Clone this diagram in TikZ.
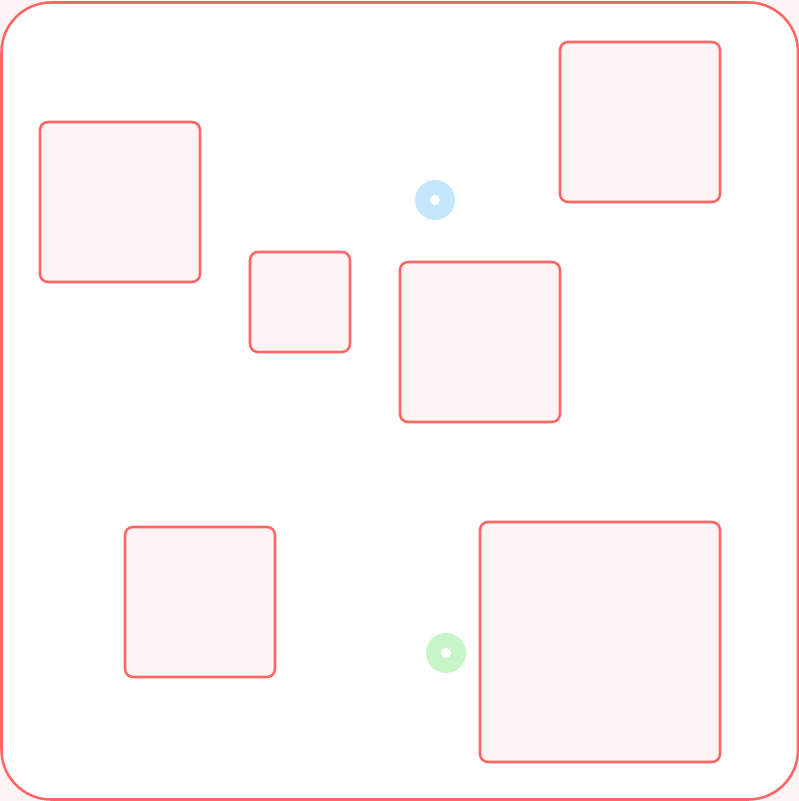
\documentclass[tikz,border=0pt]{standalone}
\usepackage{xcolor}
\usepackage{tikz}
\definecolor{obscol}{RGB}{255,102,102}
\definecolor{obsfill}{RGB}{255,244,244}
\definecolor{startcol}{RGB}{198,230,251}
\definecolor{goalcol}{RGB}{200,245,200}
\tikzset{obstacle/.style={draw=obscol,fill=obsfill,line width=0.9pt,rounded corners=0.1cm}}
\begin{document}
\begin{tikzpicture}[x=0.0125cm,y=-0.0125cm]
\useasboundingbox (0,0) rectangle (799,801);
% workspace
\fill[obsfill] (0,0) rectangle (799,801);
\filldraw[fill=white,draw=obscol,line width=0.9pt,rounded corners=0.62cm] (1.5,2.5) rectangle (798,799.5);
% obstacles
\draw[obstacle] (40,122) rectangle (200,282);
\draw[obstacle] (250,252) rectangle (350,352);
\draw[obstacle] (400,262) rectangle (560,422);
\draw[obstacle] (560,42) rectangle (720,202);
\draw[obstacle] (125,527) rectangle (275,677);
\draw[obstacle] (480,522) rectangle (720,762);
% start and goal
\fill[startcol,even odd rule] (435,200) circle (0.25cm) circle (0.065cm);
\fill[goalcol,even odd rule] (446,653) circle (0.25cm) circle (0.065cm);
\end{tikzpicture}
\end{document}
